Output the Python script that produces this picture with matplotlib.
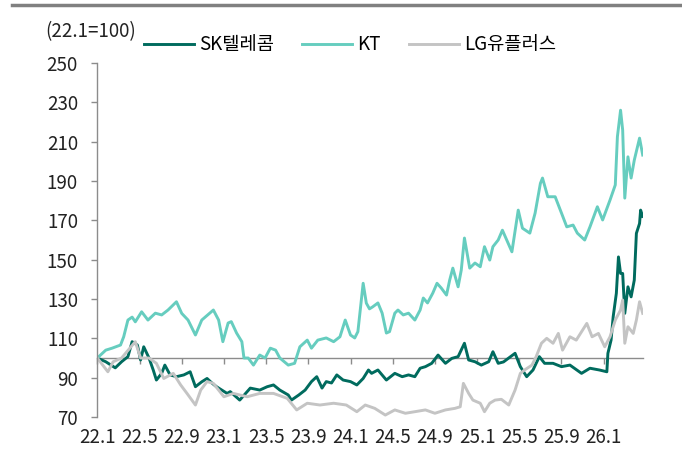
import matplotlib
matplotlib.use("Agg")
import matplotlib.pyplot as plt

plt.rcParams['font.family'] = ['Noto Sans CJK KR', 'DejaVu Sans']

# months since 2022.1, index (22.1 = 100)
sk_m = [0.0, 0.8, 1.7, 2.3, 2.9, 3.3, 3.8, 4.1, 4.4, 4.9, 5.3, 5.6, 6.1, 6.4, 6.9, 7.5,
        8.2, 8.8, 9.3, 9.9, 10.4, 10.9, 11.3, 12.3, 12.6, 13.5, 14.5, 15.4, 16.1, 16.7,
        17.3, 18.1, 18.4, 19.1, 19.7, 20.3, 20.8, 21.3, 21.7, 22.2, 22.7, 23.3, 24.0,
        24.6, 25.2, 25.7, 26.0, 26.6, 27.4, 28.2, 28.9, 29.5, 30.1, 30.6, 31.1, 31.7,
        32.3, 33.0, 33.6, 34.2, 34.8, 35.2, 35.8, 36.4, 37.1, 37.5, 38.0, 38.5, 39.6,
        40.1, 40.7, 41.3, 41.9, 42.4, 43.2, 44.0, 44.8, 45.9, 46.7, 47.6, 48.3, 48.4,
        48.7, 48.9, 49.2, 49.4, 49.6, 49.8, 50.0, 50.3, 50.6, 50.9, 51.1, 51.4, 51.5, 51.7]
sk_v = [100, 98.1, 95, 98.1, 100.7, 108.3, 106.6, 99, 105.7, 100, 93.9, 88.8, 92.2, 96.4,
        91.4, 90.5, 91.4, 93, 85.4, 87.9, 89.6, 87.1, 85.4, 82, 82.9, 78.6, 84.7, 83.7,
        85.4, 86.3, 83.7, 81.2, 78.6, 81.2, 83.7, 88, 90.5, 84.7, 88, 87.3, 91.4, 88.8,
        88, 86.3, 89.6, 93.9, 92.2, 93.9, 88.8, 92.2, 90.5, 91.4, 90.5, 94.8, 95.6, 97.3,
        101.5, 97.3, 99.8, 100.7, 107.5, 99, 98.1, 96.4, 98.1, 103.2, 97.3, 98, 102.4,
        95.6, 90.5, 93.9, 100.7, 97.3, 97.3, 95.6, 96.4, 92.2, 94.8, 93.9, 93, 102.4,
        109.1, 121, 132.9, 151.4, 143, 143, 122.7, 136.2, 131.1, 139.6, 163.4, 168.4,
        175.2, 172]

kt_m = [0.0, 0.8, 1.4, 2.2, 2.5, 2.9, 3.3, 3.6, 4.2, 4.8, 5.5, 6.1, 6.7, 7.5, 8.0, 8.6,
        9.3, 9.9, 11.0, 11.5, 11.9, 12.4, 12.7, 13.2, 13.7, 13.9, 14.3, 14.8, 15.4, 15.9,
        16.4, 16.9, 17.3, 18.1, 18.7, 19.2, 19.9, 20.3, 20.9, 21.7, 22.4, 23.0, 23.5,
        24.0, 24.4, 24.7, 25.2, 25.5, 25.8, 26.1, 26.6, 27.0, 27.4, 27.7, 28.2, 28.5,
        29.0, 29.5, 30.1, 30.6, 30.9, 31.3, 31.8, 32.2, 32.6, 33.1, 33.4, 33.7, 34.2,
        34.5, 34.8, 35.3, 35.8, 36.3, 36.7, 37.2, 37.5, 38.0, 38.4, 39.3, 39.9, 40.3,
        41.0, 41.5, 42.0, 42.2, 42.7, 43.4, 44.0, 44.5, 45.1, 45.5, 46.2, 46.7, 47.4,
        47.9, 48.6, 49.1, 49.3, 49.6, 49.8, 50.0, 50.3, 50.6, 50.9, 51.4, 51.7]
kt_v = [100, 104, 105, 106.6, 110.8, 119.3, 120.8, 118.4, 123.5, 119.3, 122.8, 121.9,
        124.4, 128.6, 122.7, 119.3, 111.7, 119.3, 124.4, 119.3, 108.3, 117.8, 118.5,
        112.7, 108.3, 100, 100, 96.4, 101.5, 100, 105, 104, 100, 96.4, 97.3, 105.7, 109.1,
        105, 109.1, 110.2, 108.3, 110.8, 119.3, 111.7, 110.2, 113.4, 138, 127.9, 125, 126,
        128, 122.8, 112.7, 113.4, 122.8, 124.4, 121.9, 122.8, 119.3, 124.4, 130.5, 128,
        133, 138, 135.6, 132, 139.6, 145.7, 136.2, 144.7, 161, 145.7, 148.3, 146.4, 156.6,
        149.8, 156.6, 160, 165, 154, 175.2, 166, 163.5, 173.7, 188.8, 191.5, 182, 182,
        173.7, 166.7, 167.6, 163.5, 160, 166.7, 176.9, 170.2, 180.3, 188, 212.5, 226,
        215.9, 181.3, 202.3, 191.5, 200.6, 211.8, 203.2]

lg_m = [0.0, 1.0, 1.5, 2.3, 2.8, 3.6, 4.1, 4.9, 5.6, 6.3, 7.2, 7.9, 8.5, 9.3, 9.8, 10.4,
        11.0, 12.0, 12.9, 14.2, 15.4, 16.7, 18.0, 18.9, 19.9, 21.1, 22.4, 23.6, 24.6,
        25.4, 26.3, 27.3, 28.2, 29.2, 30.1, 31.1, 32.0, 33.0, 33.9, 34.4, 34.7, 35.2,
        35.6, 36.3, 36.7, 37.2, 37.7, 38.3, 39.0, 39.6, 40.1, 40.5, 41.2, 41.6, 42.1,
        42.6, 43.2, 43.7, 44.1, 44.8, 45.4, 46.4, 46.9, 47.5, 48.1, 48.6, 49.1, 49.6,
        49.8, 50.0, 50.3, 50.8, 51.1, 51.4, 51.7]
lg_v = [100, 93, 98.1, 100, 103.2, 108.3, 100, 100, 97.3, 89.6, 92.2, 86.3, 82, 76.1,
        83.7, 88, 87.1, 80.3, 82, 80.3, 82, 82, 79.5, 73.6, 77, 76.1, 77, 76.1, 72.7,
        76.1, 74.4, 71, 73.6, 71.9, 72.7, 73.6, 71.9, 73.6, 74.4, 75.2, 87.1, 82, 78.6,
        77, 72.7, 77, 78.6, 79, 76.1, 83.7, 92.2, 93.9, 96.4, 100.7, 107.5, 110, 107.5,
        112.5, 104, 110.8, 109.1, 117.6, 110.8, 112.5, 105.7, 110.8, 119.3, 124.4, 129.5,
        107.5, 115.9, 112.5, 119.3, 128.6, 122.7]

series = [('SK텔레콤', sk_m, sk_v, '#006b5e'),
          ('KT', kt_m, kt_v, '#66cdbf'),
          ('LG유플러스', lg_m, lg_v, '#c4c4c4')]

x_ticks = list(range(0, 49, 4))
x_labels = ['22.1', '22.5', '22.9', '23.1', '23.5', '23.9', '24.1', '24.5', '24.9',
            '25.1', '25.5', '25.9', '26.1']
y_ticks = list(range(70, 251, 20))

fs = 13.5

fig = plt.figure(figsize=(6.82, 4.55), dpi=100)
ax = fig.add_axes([0.1427, 0.0835, 0.7997, 0.778])

for name, m, v, c in series:
    ax.plot(m, v, color=c, lw=2.1, label=name, solid_joinstyle='round')

ax.set_xlim(0, 51.7)
ax.set_ylim(70, 250)
ax.set_yticks(y_ticks)
ax.set_xticks(x_ticks)
ax.set_xticklabels(x_labels)

for s in ['top', 'right', 'bottom']:
    ax.spines[s].set_visible(False)
ax.spines['left'].set_color('#8c8c8c')
ax.spines['left'].set_linewidth(1.0)
ax.tick_params(axis='y', direction='out', length=4, width=1, color='#8c8c8c',
               labelsize=fs, pad=10, labelcolor='#222222')
ax.tick_params(axis='x', length=0, labelsize=fs, pad=7, labelcolor='#222222')

# 100 baseline with tick marks
base = ax.secondary_xaxis((100 - 70) / (250 - 70))
base.set_xticks(x_ticks)
base.set_xticklabels([])
base.spines['bottom'].set_color('#8c8c8c')
base.spines['bottom'].set_linewidth(1.0)
base.tick_params(direction='out', length=4, width=1, color='#8c8c8c')

fig.text(0.066, 0.93, '(22.1=100)', fontsize=fs, va='center', ha='left', color='#222222')

ax.legend(loc='center left', bbox_to_anchor=(0.211, 0.902), bbox_transform=fig.transFigure,
          ncol=3, frameon=False, fontsize=fs, handlelength=2.67, handletextpad=0.27,
          columnspacing=1.5, borderpad=0, borderaxespad=0)

# grey rule at the top
fig.add_artist(plt.Line2D([0.018, 1.0], [0.989, 0.989], transform=fig.transFigure,
                          color='#808080', lw=2.5))

fig.savefig('out.png', dpi=100)
